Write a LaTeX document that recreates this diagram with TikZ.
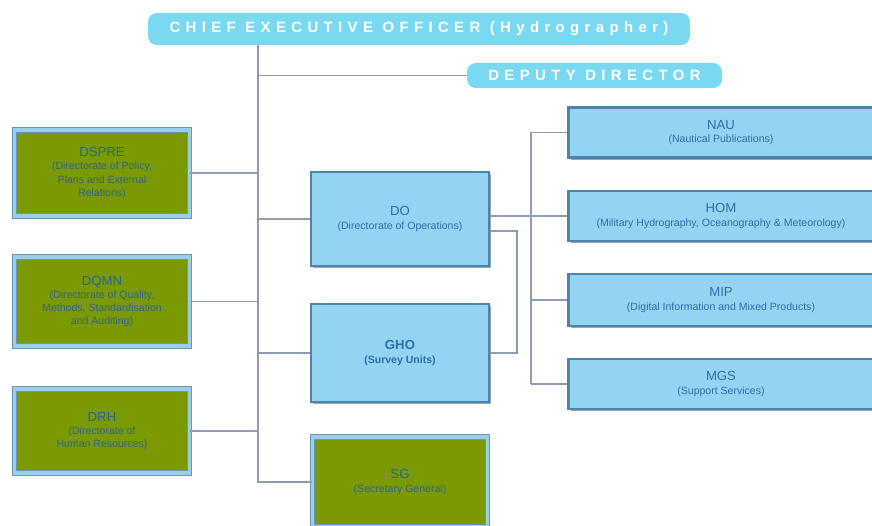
\documentclass[tikz,border=0pt]{standalone}
\usepackage{fontspec}
\setmainfont{Liberation Sans}
\usetikzlibrary{shadows}

\definecolor{headfill}{HTML}{78D9F1}
\definecolor{skyfill}{HTML}{93D4F3}
\definecolor{skyedge}{HTML}{4E84AC}
\definecolor{skyrim}{HTML}{9ACFEC}
\definecolor{olivefill}{HTML}{7B9A02}
\definecolor{labelblue}{HTML}{2D6FA7}
\definecolor{linkgray}{HTML}{8E9DB5}

\begin{document}
\begin{tikzpicture}[x=0.02cm, y=-0.02cm]

        % Setup the styles for the boxes
        \tikzset{head style/.style={rounded corners=5pt,
                                    fill=headfill,
                                    text=white,
                                    inner sep=0pt,
                                    font=\bfseries\fontsize{8.5}{10}\selectfont\addfontfeature{LetterSpace=36}},
                 blue style/.style={fill=skyfill,
                                    draw=skyedge,
                                    line width=1.2pt,
                                    drop shadow={shadow xshift=1.2pt, shadow yshift=-1.2pt, fill=skyedge!60!black, opacity=0.5},
                                    text=labelblue,
                                    align=center,
                                    inner sep=2pt,
                                    font=\fontsize{6}{7.5}\selectfont},
                 green style/.style={fill=olivefill,
                                    draw=skyedge!85,
                                    line width=0.7pt,
                                    double=skyrim,
                                    double distance=1.8pt,
                                    text=labelblue!90!black,
                                    align=center,
                                    inner sep=2pt,
                                    font=\fontsize{6}{7.5}\selectfont},
                 link/.style={draw=linkgray, line width=0.7pt}}

\useasboundingbox[fill=white] (0,0) rectangle (872,526);

% Add the top boxes
\node[head style, minimum width=10.84cm, minimum height=0.64cm] at (419,29) (ceo) {CHIEF EXECUTIVE OFFICER (Hydrographer)};
\node[head style, minimum width=5.1cm, minimum height=0.5cm] at (594.5,75.5) (dep) {DEPUTY DIRECTOR};

% Add the left column
\node[green style, minimum width=3.5cm, minimum height=1.72cm] at (102,173) (dspre) {{\fontsize{7.5}{9}\selectfont DSPRE}\\(Directorate of Policy,\\Plans and External\\Relations)};
\node[green style, minimum width=3.5cm, minimum height=1.78cm] at (102,301.5) (dqmn) {{\fontsize{7.5}{9}\selectfont DQMN}\\(Directorate of Quality,\\Methods, Standardisation\\and Auditing)};
\node[green style, minimum width=3.5cm, minimum height=1.68cm] at (102,431) (drh) {{\fontsize{7.5}{9}\selectfont DRH}\\(Directorate of\\Human Resources)};

% Add the middle column
\node[blue style, minimum width=3.56cm, minimum height=1.88cm] at (400,219) (do) {{\fontsize{7.5}{9}\selectfont DO}\\(Directorate of Operations)};
\node[blue style, minimum width=3.56cm, minimum height=1.96cm] at (400,353) (gho) {{\fontsize{7.5}{9}\selectfont\bfseries GHO}\\{\bfseries (Survey Units)}};
\node[green style, minimum width=3.5cm, minimum height=1.8cm] at (400,482) (sg) {{\fontsize{7.5}{9}\selectfont SG}\\(Secretary General)};

% Add the right column
\node[blue style, minimum width=6.1cm, minimum height=1.0cm] at (721,132.5) (nau) {{\fontsize{7.5}{9}\selectfont NAU}\\(Nautical Publications)};
\node[blue style, minimum width=6.1cm, minimum height=1.0cm] at (721,216) (hom) {{\fontsize{7.5}{9}\selectfont HOM}\\(Military Hydrography, Oceanography \& Meteorology)};
\node[blue style, minimum width=6.1cm, minimum height=1.04cm] at (721,300) (mip) {{\fontsize{7.5}{9}\selectfont MIP}\\(Digital Information and Mixed Products)};
\node[blue style, minimum width=6.1cm, minimum height=1.0cm] at (721,384) (mgs) {{\fontsize{7.5}{9}\selectfont MGS}\\(Support Services)};

% Add the connectors
\coordinate (trunk) at (258,0);
\coordinate (fork) at (531,0);

\draw[link] (ceo.south -| trunk) -- (trunk |- sg.west) -- (sg.west);
\draw[link] (trunk |- dep.west) -- (dep.west);
\draw[link] (dspre.east) -- (dspre.east -| trunk);
\draw[link] (dqmn.east) -- (dqmn.east -| trunk);
\draw[link] (drh.east) -- (drh.east -| trunk);
\draw[link] (trunk |- do.west) -- (do.west);
\draw[link] (trunk |- gho.west) -- (gho.west);

\draw[link] (hom.west -| do.east) -- (hom.west);
\draw[link] (fork |- nau.west) -- (fork |- mgs.west);
\draw[link] (fork |- nau.west) -- (nau.west);
\draw[link] (fork |- mip.west) -- (mip.west);
\draw[link] (fork |- mgs.west) -- (mgs.west);
\draw[link] (do.east) ++(0,12) -- ++(27,0) |- (gho.east);
\end{tikzpicture}
\end{document}
